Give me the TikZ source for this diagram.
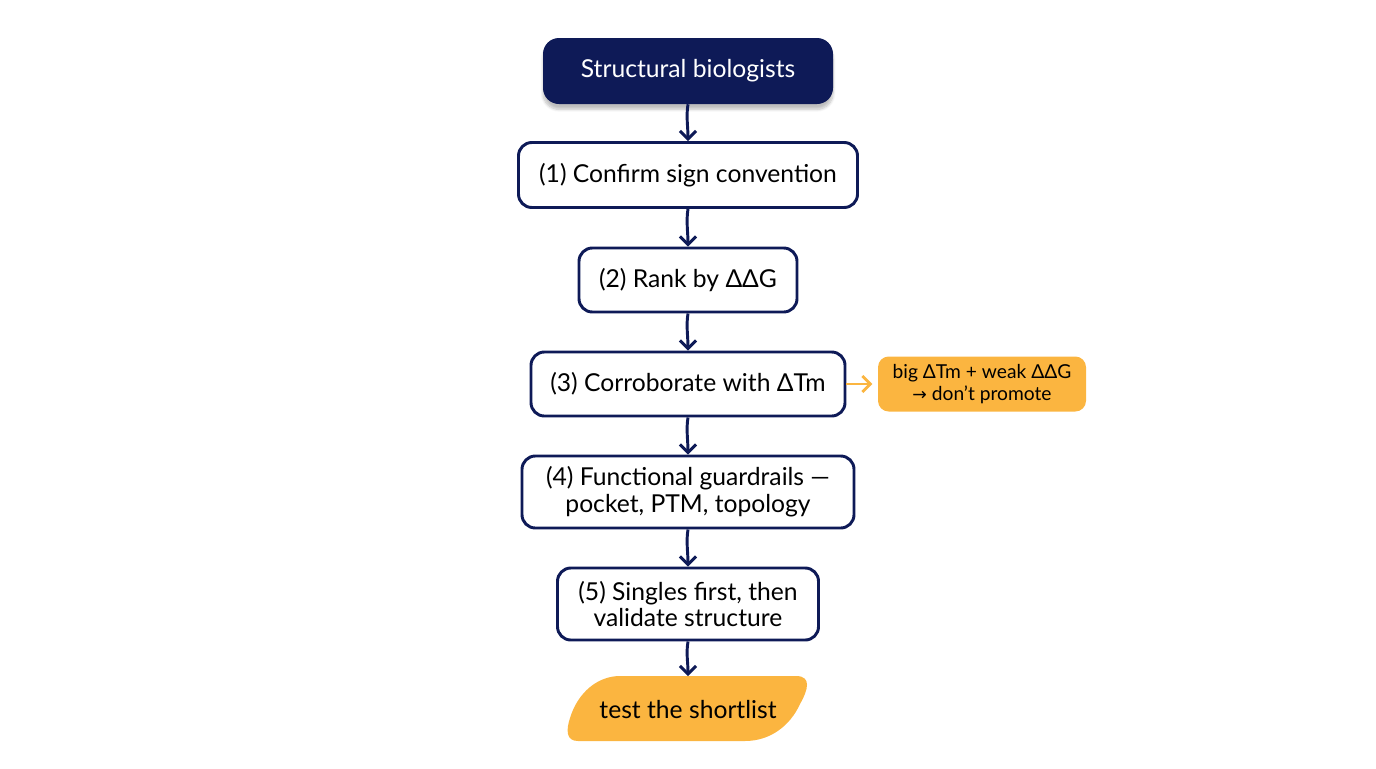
\documentclass[tikz,border=0pt]{standalone}
\usepackage{fontspec}
\setmainfont{Lato}
\newfontfamily\symf{DejaVu Sans}
\usetikzlibrary{arrows.meta,shadows.blur}
\definecolor{navy}{HTML}{0E1A57}
\definecolor{gold}{HTML}{FBB540}
\begin{document}
\begin{tikzpicture}[x=0.75pt,y=-0.75pt,
  box/.style={draw=navy,line width=2.2pt,rounded corners=10pt,fill=white,font=\fontsize{18.5}{20}\selectfont,text=black,align=center,inner sep=0pt},
  conn/.style={draw=navy,line width=2.2pt,-{Straight Barb[length=6pt,width=12pt,line width=2.2pt]}},
  side/.style={fill=gold,rounded corners=8pt,font=\fontsize{14.4}{16.5}\selectfont,align=center,inner sep=0pt}]
\useasboundingbox (0,0) rectangle (1376,768);
\node[fill=navy,rounded corners=12pt,text=white,font=\fontsize{18.5}{20}\selectfont,minimum width=290*0.75pt,minimum height=66*0.75pt,inner sep=0pt,blur shadow={shadow blur steps=8,shadow xshift=0pt,shadow yshift=-4pt,shadow opacity=25}] (t) at (688,71) {Structural biologists};
\node[box,minimum width=339*0.75pt,minimum height=65*0.75pt] (n1) at (688,175) {(1) Confirm sign convention};
\node[box,minimum width=218*0.75pt,minimum height=64*0.75pt] (n2) at (688,280) {(2) Rank by ΔΔG};
\node[box,minimum width=314*0.75pt,minimum height=64*0.75pt] (n3) at (688,384) {(3) Corroborate with ΔTm};
\node[side,minimum width=208*0.75pt,minimum height=55*0.75pt] (s) at (982,384) {big ΔTm + weak ΔΔG\\{\symf\fontsize{13}{16}\selectfont →} don’t promote};
\node[box,minimum width=332*0.75pt,minimum height=72*0.75pt] (n4) at (688,492) {(4) Functional guardrails —\\pocket, PTM, topology};
\node[box,minimum width=261*0.75pt,minimum height=72*0.75pt] (n5) at (688,604) {(5) Singles first, then\\validate structure};
\fill[gold] (620,676) -- (796,676) .. controls (812,676) and (808,690) .. (800,704) .. controls (790,726) and (770,741) .. (745,741) -- (578,741) .. controls (566,741) and (566,730) .. (570,718) .. controls (578,692) and (598,676) .. (620,676) -- cycle;
\node[font=\fontsize{18.5}{20}\selectfont,inner sep=0pt] (n6) at (688,709) {test the shortlist};
\coordinate (n6t) at (688,676);
\foreach \a/\b in {t/n1,n1/n2,n2/n3,n3/n4,n4/n5}
  \draw[conn] (\a.south) .. controls ++(-2,12) and ++(0,-14) .. (\b.north);
\draw[conn] (n5.south) .. controls ++(-2,12) and ++(0,-14) .. (n6t);
\draw[draw=gold,line width=2.2pt,-{Straight Barb[length=6pt,width=12pt,line width=2.2pt]}] (n3.east) -- ([xshift=-4pt]s.west);
\end{tikzpicture}
\end{document}
